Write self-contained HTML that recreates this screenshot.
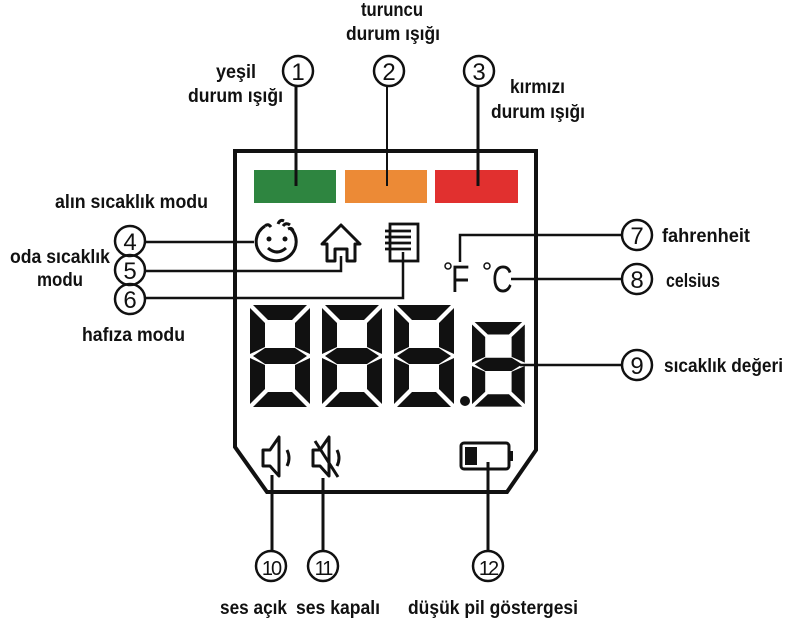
<!DOCTYPE html>
<html><head><meta charset="utf-8"><style>
html,body{margin:0;padding:0;background:#fff;}
svg{display:block;}
.t{font-family:"Liberation Sans",sans-serif;font-weight:bold;font-size:19px;fill:#111;}
.n{font-family:"Liberation Sans",sans-serif;font-size:24px;fill:#111;text-anchor:middle;}
</style></head><body>
<svg width="800" height="642" viewBox="0 0 800 642" xmlns="http://www.w3.org/2000/svg">
<defs>
<g id="dg">
<polygon points="3,0 57,0 42,15 18,15"/>
<polygon points="0,3 15,18 15,42 0,49"/>
<polygon points="60,3 60,49 45,42 45,18"/>
<polygon points="3,51 15,43 45,43 57,51 45,59 15,59"/>
<polygon points="0,53 15,60 15,84 0,99"/>
<polygon points="60,53 60,99 45,84 45,60"/>
<polygon points="3,102 18,87 42,87 57,102"/>
</g>
</defs>
<path d="M235,151 L536,151 L536,450 L507,492 L267,492 L235,447 Z" fill="none" stroke="#111" stroke-width="4"/>
<rect x="254" y="170" width="82" height="33" fill="#2e8540"/>
<rect x="345" y="170" width="82" height="33" fill="#ec8a36"/>
<rect x="435" y="170" width="83" height="33" fill="#e1302f"/>
<g stroke="#111" stroke-width="3">
<line x1="296" y1="86" x2="296" y2="186"/>
<line x1="387" y1="86" x2="387" y2="186" stroke-width="2"/>
<line x1="478" y1="86" x2="478" y2="186"/>
</g>
<g fill="none" stroke="#111" stroke-width="2.5">
<circle cx="298" cy="71" r="15"/><circle cx="389" cy="71" r="15"/><circle cx="479" cy="71" r="15"/>
<circle cx="130" cy="241" r="15"/><circle cx="130" cy="270" r="15"/><circle cx="130" cy="299" r="15"/>
<circle cx="637" cy="235" r="15"/><circle cx="637" cy="279" r="15"/><circle cx="637" cy="365" r="15"/>
<circle cx="271" cy="566" r="15"/><circle cx="323" cy="566" r="15"/><circle cx="488" cy="566" r="15"/>
</g>
<g class="n">
<text x="298" y="80">1</text><text x="389" y="80">2</text><text x="479" y="80">3</text>
<text x="130" y="250">4</text><text x="130" y="279">5</text><text x="130" y="308">6</text>
<text x="637" y="244">7</text><text x="637" y="288">8</text><text x="637" y="374">9</text>
<text x="271" y="575" font-size="20" letter-spacing="-2">10</text><text x="323" y="575" font-size="20" letter-spacing="-2">11</text><text x="488" y="575" font-size="20" letter-spacing="-2">12</text>
</g>
<g fill="none" stroke="#111" stroke-width="2.5">
<line x1="145" y1="242" x2="254" y2="242"/>
<polyline points="145,271 341,271 341,256"/>
<polyline points="145,298 403,298 403,252"/>
<polyline points="622,235 460,235 460,262"/>
<line x1="511" y1="279" x2="622" y2="279"/>
<line x1="520" y1="365" x2="622" y2="365"/>
<line x1="272" y1="475" x2="272" y2="551" stroke-width="3"/>
<line x1="323" y1="478" x2="323" y2="551" stroke-width="3"/>
<line x1="488" y1="462" x2="488" y2="551" stroke-width="3"/>
</g>
<!-- face -->
<g fill="none" stroke="#111" stroke-width="3">
<path d="M265,226 A20,19 0 1 0 290,228"/>
<path d="M265,226 q3,-3 6,1 M278,224 q2,-5 6,-3 M283,226 q3,-4 7,-1 M288,229 q4,-2 5,2"/>
<path d="M268,248 Q277,256 286,248"/>
</g>
<circle cx="269" cy="239" r="2.5" fill="#111"/><circle cx="285" cy="239" r="2.5" fill="#111"/>
<!-- house -->
<path d="M322,244 L341,225 L360,244 L355,244 L355,261 L347,261 L347,249 L335,249 L335,261 L327,261 L327,244 Z" fill="none" stroke="#111" stroke-width="3" stroke-linejoin="round"/>
<!-- notebook -->
<g fill="none" stroke="#111" stroke-width="2.8">
<rect x="390" y="224" width="28" height="37"/>
<line x1="385" y1="231" x2="411" y2="231"/><line x1="385" y1="237" x2="411" y2="237"/><line x1="385" y1="243" x2="411" y2="243"/><line x1="385" y1="249" x2="411" y2="249"/>
</g>
<text x="451" y="292" font-family="Liberation Sans, sans-serif" font-size="38" fill="#111" transform="translate(451 0) scale(0.8 1) translate(-451 0)">F</text>
<circle cx="448" cy="266" r="3" fill="none" stroke="#111" stroke-width="1.5"/>
<text x="492" y="292" font-family="Liberation Sans, sans-serif" font-size="38" fill="#111" transform="translate(492 0) scale(0.75 1) translate(-492 0)">C</text>
<circle cx="487" cy="266" r="3" fill="none" stroke="#111" stroke-width="1.5"/>
<g fill="#111">
<use href="#dg" transform="translate(250,305)"/>
<use href="#dg" transform="translate(322,305)"/>
<use href="#dg" transform="translate(394,305)"/>
<circle cx="465" cy="401" r="5"/>
<use href="#dg" transform="translate(472,322) scale(0.88 0.83)"/>
</g>
<g fill="none" stroke="#111" stroke-width="3" stroke-linejoin="round">
<path d="M263,450 L270,450 L279,437 L279,476 L270,466 L263,466 Z"/>
<path d="M287,450 q4,8 0,16"/>
<path d="M313,450 L320,450 L329,437 L329,476 L320,466 L313,466 Z"/>
<path d="M337,450 q4,8 0,16"/>
<line x1="315" y1="441" x2="338" y2="477"/>
</g>
<rect x="461" y="443" width="48" height="26" rx="3" fill="none" stroke="#111" stroke-width="3"/>
<rect x="465" y="447" width="12" height="18" fill="#111"/>
<rect x="509" y="451" width="4" height="10" fill="#111"/>
<g class="t" lengthAdjust="spacingAndGlyphs">
<text x="361" y="16" textLength="62" lengthAdjust="spacingAndGlyphs">turuncu</text>
<text x="346" y="40" textLength="94" lengthAdjust="spacingAndGlyphs">durum ışığı</text>
<text x="216" y="78" textLength="40" lengthAdjust="spacingAndGlyphs">yeşil</text>
<text x="188" y="102" textLength="95" lengthAdjust="spacingAndGlyphs">durum ışığı</text>
<text x="510" y="93" textLength="55" lengthAdjust="spacingAndGlyphs">kırmızı</text>
<text x="491" y="118" textLength="94" lengthAdjust="spacingAndGlyphs">durum ışığı</text>
<text x="55" y="208" textLength="153" lengthAdjust="spacingAndGlyphs">alın sıcaklık modu</text>
<text x="10" y="263" textLength="100" lengthAdjust="spacingAndGlyphs">oda sıcaklık</text>
<text x="37" y="286" textLength="46" lengthAdjust="spacingAndGlyphs">modu</text>
<text x="82" y="341" textLength="103" lengthAdjust="spacingAndGlyphs">hafıza modu</text>
<text x="662" y="242" textLength="88" lengthAdjust="spacingAndGlyphs">fahrenheit</text>
<text x="666" y="287" textLength="54" lengthAdjust="spacingAndGlyphs">celsius</text>
<text x="664" y="372" textLength="119" lengthAdjust="spacingAndGlyphs">sıcaklık değeri</text>
<text x="220" y="614" textLength="67" lengthAdjust="spacingAndGlyphs">ses açık</text>
<text x="296" y="614" textLength="84" lengthAdjust="spacingAndGlyphs">ses kapalı</text>
<text x="408" y="614" textLength="170" lengthAdjust="spacingAndGlyphs">düşük pil göstergesi</text>
</g>
</svg>
</body></html>
